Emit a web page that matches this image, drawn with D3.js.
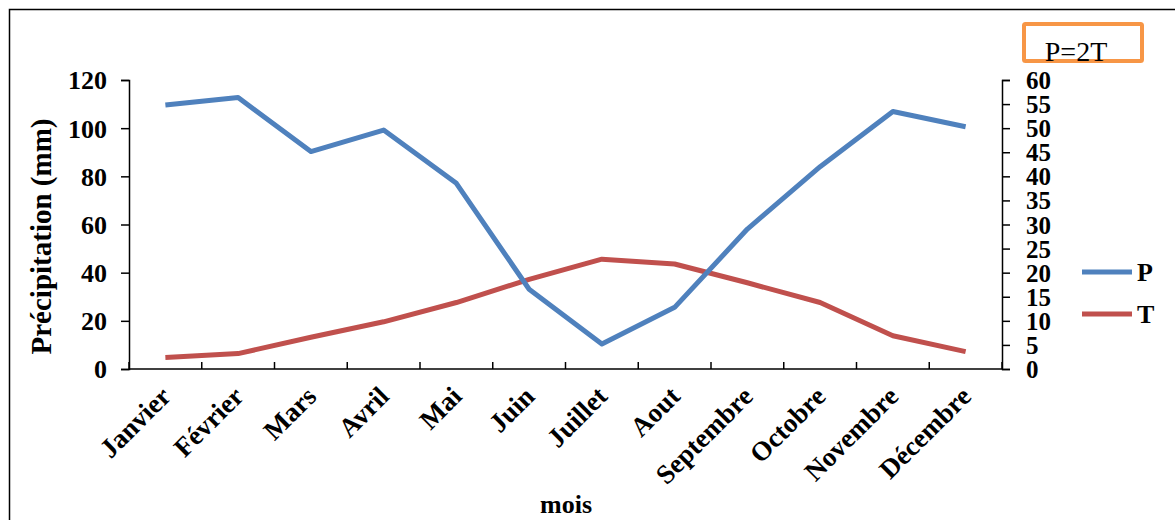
<!DOCTYPE html>
<html>
<head>
<meta charset="utf-8">
<script src="https://cdn.jsdelivr.net/npm/d3@7"></script>
<style>
  html, body { margin: 0; padding: 0; background: #fff; }
  svg { display: block; font-family: "Liberation Serif", "Times New Roman", serif; }
</style>
</head>
<body>
<svg id="chart" width="1175" height="520"></svg>
<script>
// Monthly precipitation (mm) and temperature (°C), drawn on twin axes with P = 2T
const months = ["Janvier", "Février", "Mars", "Avril", "Mai", "Juin",
                "Juillet", "Aout", "Septembre", "Octobre", "Novembre", "Décembre"];
const precipitation = [109.6, 112.7, 90.3, 99.2, 77.1, 33.1, 10.4, 25.6, 58.1, 84.0, 106.9, 100.6];
const temperature = [2.4, 3.2, 6.6, 9.8, 13.8, 18.6, 22.8, 21.8, 17.9, 13.8, 6.9, 3.6];
const pTicks = [0, 20, 40, 60, 80, 100, 120];
const tTicks = [0, 5, 10, 15, 20, 25, 30, 35, 40, 45, 50, 55, 60];
const legendItems = [
  { key: "P", color: "#4F81BD" },
  { key: "T", color: "#C0504D" }
];

const svg = d3.select("#chart");

// outer frame
svg.append("rect")
  .attr("x", 9.5).attr("y", 9.5)
  .attr("width", 1200).attr("height", 600)
  .attr("fill", "none").attr("stroke", "#000").attr("stroke-width", 1.5);

const plotLeft = 129, plotRight = 1002, plotTop = 80, plotBottom = 369;

const x = d3.scaleBand().domain(months).range([plotLeft, plotRight]).padding(0);
const yP = d3.scaleLinear().domain([0, 120]).range([plotBottom, plotTop]);
const yT = d3.scaleLinear().domain([0, 60]).range([plotBottom, plotTop]);

// left axis (precipitation)
const gL = svg.append("g").attr("transform", `translate(${plotLeft},0)`)
  .call(d3.axisLeft(yP).tickValues(pTicks).tickSize(8).tickPadding(14));
gL.selectAll("text").attr("font-size", 26).attr("font-weight", "bold")
  .attr("font-family", "Liberation Serif").attr("fill", "#000").attr("dy", "0.34em");

// right axis (temperature)
const gR = svg.append("g").attr("transform", `translate(${plotRight},0)`)
  .call(d3.axisRight(yT).tickValues(tTicks).tickSize(8).tickPadding(16));
gR.selectAll("text").attr("font-size", 25).attr("font-weight", "bold")
  .attr("font-family", "Liberation Serif").attr("fill", "#000").attr("dy", "0.34em");

// bottom axis: ticks on category boundaries, pointing inward
const gB = svg.append("g").attr("transform", `translate(0,${plotBottom})`);
gB.append("line").attr("x1", plotLeft).attr("x2", plotRight).attr("y1", 0).attr("y2", 0)
  .attr("stroke", "#000").attr("stroke-width", 1.5);
const boundaries = months.map(m => x(m)).concat([x(months[months.length - 1]) + x.bandwidth()]);
gB.selectAll("line.tick").data(boundaries).join("line").attr("class", "tick")
  .attr("x1", d => d).attr("x2", d => d).attr("y1", 0).attr("y2", -7)
  .attr("stroke", "#000").attr("stroke-width", 1.5);
gB.selectAll("text").data(months).join("text")
  .attr("transform", d => `translate(${x(d) + x.bandwidth() / 2 + 7},${29}) rotate(-45)`)
  .attr("text-anchor", "end")
  .attr("font-size", 27).attr("font-weight", "bold").attr("fill", "#000")
  .text(d => d);

[gL, gR].forEach(g => {
  g.select(".domain").attr("stroke-width", 1.5);
  g.selectAll(".tick line").attr("stroke-width", 1.5);
});

// series lines
const center = d => x(d) + x.bandwidth() / 2;
const lineP = d3.line().x((d, i) => center(months[i])).y(d => yP(d));
const lineT = d3.line().x((d, i) => center(months[i])).y(d => yT(d));

svg.append("path").datum(temperature)
  .attr("d", lineT).attr("fill", "none")
  .attr("stroke", legendItems[1].color).attr("stroke-width", 5)
  .attr("stroke-linejoin", "round");
svg.append("path").datum(precipitation)
  .attr("d", lineP).attr("fill", "none")
  .attr("stroke", legendItems[0].color).attr("stroke-width", 5)
  .attr("stroke-linejoin", "round");

// axis titles
svg.append("text")
  .attr("transform", `translate(51,${(plotTop + plotBottom) / 2 + 12}) rotate(-90)`)
  .attr("text-anchor", "middle")
  .attr("font-size", 29).attr("font-weight", "bold").text("Précipitation (mm)");
svg.append("text")
  .attr("x", 566).attr("y", 513).attr("text-anchor", "middle")
  .attr("font-size", 26).attr("font-weight", "bold").text("mois");

// legend
const lg = svg.append("g");
legendItems.forEach((item, i) => {
  const yy = 272 + i * 42;
  lg.append("line").attr("x1", 1082).attr("x2", 1132).attr("y1", yy).attr("y2", yy)
    .attr("stroke", item.color).attr("stroke-width", 5);
  lg.append("text").attr("x", 1137).attr("y", yy + 9)
    .attr("font-size", 26).attr("font-weight", "bold").text(item.key);
});

// relation box
svg.append("rect")
  .attr("x", 1024).attr("y", 24).attr("width", 118).attr("height", 37).attr("rx", 1.5)
  .attr("fill", "none").attr("stroke", "#F79646").attr("stroke-width", 4);
svg.append("text")
  .attr("x", 1076).attr("y", 61).attr("text-anchor", "middle")
  .attr("font-size", 28).text("P=2T");
</script>
</body>
</html>
